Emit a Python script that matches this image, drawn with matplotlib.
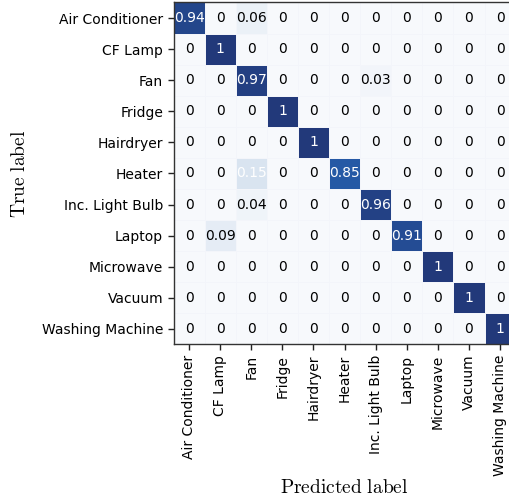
import matplotlib
matplotlib.use('Agg')
import matplotlib.pyplot as plt
import numpy as np
from matplotlib.colors import LinearSegmentedColormap

plt.rcParams['mathtext.fontset'] = 'cm'

labels = ['Air Conditioner', 'CF Lamp', 'Fan', 'Fridge', 'Hairdryer', 'Heater',
          'Inc. Light Bulb', 'Laptop', 'Microwave', 'Vacuum', 'Washing Machine']

# normalised confusion matrix, rows = true class
cm = np.array([
    [0.94, 0, 0.06, 0, 0, 0, 0, 0, 0, 0, 0],
    [0, 1, 0, 0, 0, 0, 0, 0, 0, 0, 0],
    [0, 0, 0.97, 0, 0, 0, 0.03, 0, 0, 0, 0],
    [0, 0, 0, 1, 0, 0, 0, 0, 0, 0, 0],
    [0, 0, 0, 0, 1, 0, 0, 0, 0, 0, 0],
    [0, 0, 0.15, 0, 0, 0.85, 0, 0, 0, 0, 0],
    [0, 0, 0.04, 0, 0, 0, 0.96, 0, 0, 0, 0],
    [0, 0.09, 0, 0, 0, 0, 0, 0.91, 0, 0, 0],
    [0, 0, 0, 0, 0, 0, 0, 0, 1, 0, 0],
    [0, 0, 0, 0, 0, 0, 0, 0, 0, 1, 0],
    [0, 0, 0, 0, 0, 0, 0, 0, 0, 0, 1],
])

blues = LinearSegmentedColormap.from_list(
    'muted_blues',
    [(0.0, '#f7f9fc'), (0.15, '#d9e4f0'), (0.5, '#7fa3cf'),
     (0.85, '#2559a5'), (1.0, '#22397a')])

fig = plt.figure(figsize=(5.09, 4.97), dpi=100)
ax = fig.add_axes([0.341, 0.307, 0.672, 0.688])

n = len(labels)
ax.pcolormesh(np.arange(n + 1) - 0.5, np.arange(n + 1) - 0.5, cm,
              cmap=blues, vmin=0, vmax=1,
              edgecolors='#f3f5fa', linewidth=0.5)
ax.set_xlim(-0.5, n - 0.5)
ax.set_ylim(n - 0.5, -0.5)

for i in range(n):
    for j in range(n):
        v = cm[i, j]
        ax.text(j, i, '{:g}'.format(v), ha='center', va='center', fontsize=10,
                color='white' if v > 0.1 else 'black')

ax.set_xticks(range(n))
ax.set_yticks(range(n))
ax.set_xticklabels(labels, rotation=90, fontsize=10)
ax.set_yticklabels(labels, fontsize=10)
ax.tick_params(direction='out', length=4, width=1, color='#222222')
for s in ax.spines.values():
    s.set_color('#333333')
    s.set_linewidth(1)

ax.set_ylabel(r'$\mathrm{True\ label}$', fontsize=14, labelpad=9)
ax.set_xlabel(r'$\mathrm{Predicted\ label}$', fontsize=14, labelpad=1)

fig.savefig('out.png', dpi=100)
